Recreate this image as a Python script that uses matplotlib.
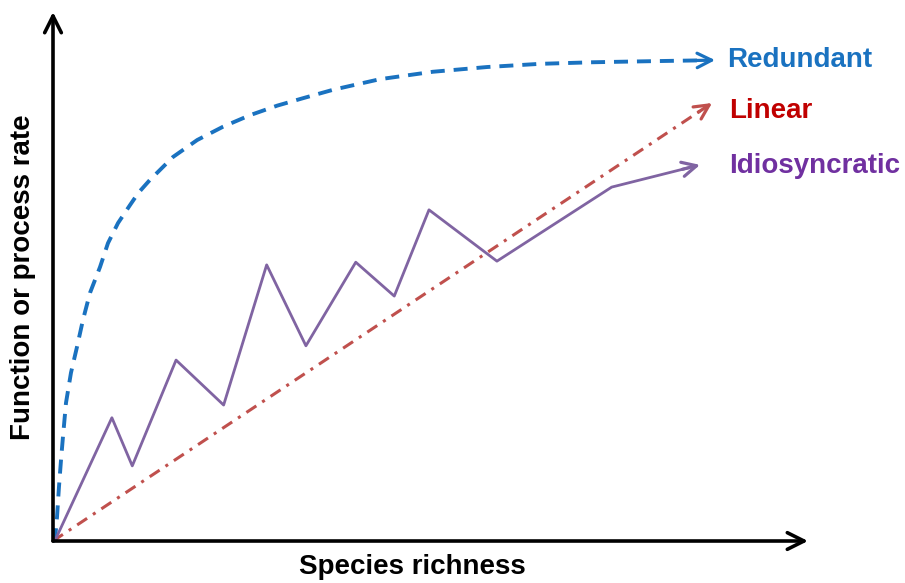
import matplotlib
matplotlib.use("Agg")
import matplotlib.pyplot as plt

plt.rcParams['font.family'] = ['Liberation Sans', 'DejaVu Sans']

# data (0..100 on both axes, arrow tips at 100)
redundant_x = [0, 0.26, 0.53, 0.79, 1.06, 1.32, 1.72, 2.38, 3.18, 3.97, 4.9, 6.23, 7.28, 8.61,
               10.2, 11.3, 12.8, 15.9, 19.1, 22.5, 26.1, 29.7, 33.1, 37.1, 43.3, 50.3, 57.5,
               64.5, 71.5, 79.1, 87.7]
redundant_y = [0, 0.19, 4.5, 10.2, 15.3, 19.7, 26.1, 31.8, 36.7, 41.8, 46.9, 51.8, 56.3, 60.1,
               63.5, 65.8, 68.2, 72.6, 75.8, 78.3, 80.5, 82.3, 83.7, 85.3, 87.3, 88.7, 89.6,
               90.2, 90.5, 90.7, 90.9]

linear_x = [0, 87.3]
linear_y = [0, 82.8]

idio_x = [0.3, 7.8, 10.5, 16.3, 22.6, 28.3, 33.5, 40.1, 45.2, 49.8, 58.8, 74.0, 85.7]
idio_y = [0.2, 23.3, 14.2, 34.2, 25.7, 52.2, 36.9, 52.7, 46.3, 62.6, 52.9, 66.9, 71.1]

labels = ["Redundant", "Linear", "Idiosyncratic"]
line_colors = ["#1a72c0", "#c0504d", "#8064a2"]
text_colors = ["#1a72c0", "#c00000", "#7030a0"]

fig = plt.figure(figsize=(9.05, 5.83), dpi=100)
ax = fig.add_axes([53/905, 42/583, 755/905, 529/583])
ax.set_xlim(0, 100)
ax.set_ylim(0, 100)
ax.axis('off')

# axes as arrows
for tip in [(100, 0), (0, 100)]:
    ax.annotate("", xy=tip, xytext=(0, 0),
                arrowprops=dict(arrowstyle='->', lw=2.6, color='black', mutation_scale=30,
                                shrinkA=0, shrinkB=0), annotation_clip=False)

series = [(redundant_x, redundant_y), (linear_x, linear_y), (idio_x, idio_y)]
styles = [dict(lw=2.8, dashes=(3.6, 2.3)),
          dict(lw=2.2, dashes=(3.9, 2.3, 1.0, 2.3)),
          dict(lw=2.0)]

for (xs, ys), c, st in zip(series, line_colors, styles):
    dx = xs[-1] - xs[-2]
    dy = ys[-1] - ys[-2]
    n = (dx ** 2 + dy ** 2) ** 0.5
    # stop the line just before the tip so the head stays clean
    ax.plot(xs[:-1] + [xs[-1] - 1.5 * dx / n], ys[:-1] + [ys[-1] - 1.5 * dy / n],
            color=c, clip_on=False, solid_capstyle='butt', **st)
    ax.annotate("", xy=(xs[-1], ys[-1]), xytext=(xs[-1] - 2.5 * dx / n, ys[-1] - 2.5 * dy / n),
                arrowprops=dict(arrowstyle='->', lw=2.3, color=c, mutation_scale=26,
                                shrinkA=0, shrinkB=0), annotation_clip=False)

label_pos = [(89.3, 89.6), (89.6, 80.0), (89.6, 69.6)]
for lab, (lx, ly), c in zip(labels, label_pos, text_colors):
    ax.text(lx, ly, lab, color=c, fontsize=20, fontweight='bold', va='baseline', ha='left',
            clip_on=False)

fig.text(412/905, 1 - 567/583, "Species richness", fontsize=20, fontweight='bold',
         ha='center', va='center')
fig.text(23/905, 1 - 277/583, "Function or process rate", fontsize=20, fontweight='bold',
         ha='center', va='center', rotation=90)

fig.savefig("out.png", dpi=100)
